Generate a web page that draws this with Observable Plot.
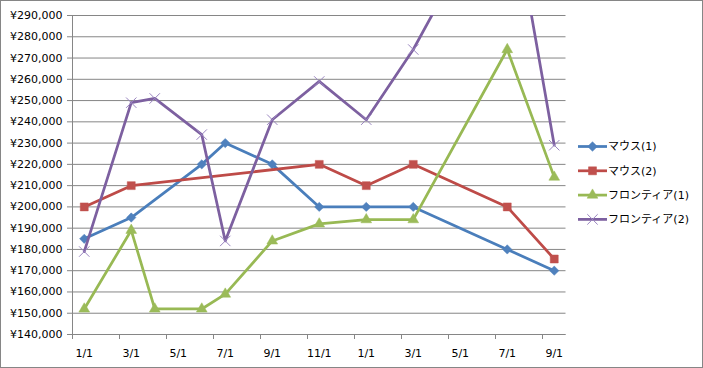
<!DOCTYPE html>
<html>
<head>
<meta charset="utf-8">
<script src="https://cdn.jsdelivr.net/npm/d3@7"></script>
<script src="https://cdn.jsdelivr.net/npm/@observablehq/plot@0.6"></script>
<style>
  html, body { margin: 0; padding: 0; background: #fff; }
  #chart { width: 703px; height: 368px; }
</style>
</head>
<body>
<div id="chart"></div>
<script>
// ---- data ----
const seriesNames = ["マウス(1)", "マウス(2)", "フロンティア(1)", "フロンティア(2)"];

const mouse1Months = ["2012-01","2012-03","2012-06","2012-07","2012-09","2012-11","2013-01","2013-03","2013-07","2013-09"];
const mouse1Values = [185000,195000,220000,230000,220000,200000,200000,200000,180000,170000];

const mouse2Months = ["2012-01","2012-03","2012-11","2013-01","2013-03","2013-07","2013-09"];
const mouse2Values = [200000,210000,220000,210000,220000,200000,175500];

const frontier1Months = ["2012-01","2012-03","2012-04","2012-06","2012-07","2012-09","2012-11","2013-01","2013-03","2013-07","2013-09"];
const frontier1Values = [152000,189000,152000,152000,159000,184000,192000,194000,194000,274000,214000];

const frontier2Months = ["2012-01","2012-03","2012-04","2012-06","2012-07","2012-09","2012-11","2013-01","2013-03","2013-07","2013-09"];
const frontier2Values = [179000,249000,251000,234000,184000,241000,259000,241000,274000,355000,229000];

const xTickLabels = ["1/1","3/1","5/1","7/1","9/1","11/1","1/1","3/1","5/1","7/1","9/1"];
const yTicks = d3.range(140000, 290001, 10000);

// ---- build table ----
const startYear = 2012;
const monthPos = s => { const [y, m] = s.split("-").map(Number); return (y - startYear) * 12 + (m - 1) + 0.5; };
const lineColors = ["#4A7EBB", "#BE4B48", "#98B954", "#7D60A0"];
const markFill = ["#4F81BD", "#C0504D", "#9BBB59", "#8064A2"];
const allMonths = [mouse1Months, mouse2Months, frontier1Months, frontier2Months];
const allValues = [mouse1Values, mouse2Values, frontier1Values, frontier2Values];
const series = seriesNames.map((name, k) =>
  allMonths[k].map((m, i) => ({series: name, x: monthPos(m), y: allValues[k][i]}))
);

const nMonths = 21;
const boundaryTicks = d3.range(0, 21, 2);
const centerTicks = xTickLabels.map((_, i) => i * 2 + 0.5);

const font = "'DejaVu Sans', 'Noto Sans CJK JP', sans-serif";

const lineMark = k => Plot.line(series[k], {x: "x", y: "y", stroke: lineColors[k], strokeWidth: 2.75, clip: true, strokeLinejoin: "round", strokeLinecap: "round"});

const chart = Plot.plot({
  width: 703,
  height: 368,
  marginLeft: 72,
  marginRight: 137.5,
  marginTop: 15,
  marginBottom: 34,
  x: {type: "linear", domain: [0, nMonths]},
  y: {domain: [140000, 290000]},
  style: {fontFamily: font, fontSize: "11px", color: "#000", background: "#fff", overflow: "visible"},
  marks: [
    Plot.gridY(yTicks, {stroke: "#868686", strokeOpacity: 1, strokeWidth: 1}),
    Plot.ruleX([0], {stroke: "#868686"}),
    Plot.ruleY([140000], {stroke: "#868686"}),
    Plot.axisY({ticks: yTicks, tickSize: 5, tickPadding: 5, stroke: "#868686", fill: "#000",
      tickFormat: v => "¥" + d3.format(",")(v), label: null}),
    Plot.axisX({ticks: boundaryTicks, tickSize: 5, stroke: "#868686", tickFormat: () => "", label: null}),
    Plot.axisX({ticks: centerTicks, tickSize: 0, tickPadding: 15, fill: "#000",
      tickFormat: d => xTickLabels[Math.round((d - 0.5) / 2)], label: null}),
    lineMark(0),
    Plot.dot(series[0], {x: "x", y: "y", symbol: "diamond2", r: 4.2, fill: markFill[0], stroke: markFill[0], strokeWidth: 0.5, clip: true}),
    lineMark(1),
    Plot.dot(series[1], {x: "x", y: "y", symbol: "square", r: 4.5, fill: markFill[1], stroke: markFill[1], strokeWidth: 0.5, clip: true}),
    lineMark(2),
    Plot.dot(series[2], {x: "x", y: "y", symbol: "triangle", r: 4, fill: markFill[2], stroke: markFill[2], strokeWidth: 0.5, clip: true}),
    lineMark(3),
    Plot.dot(series[3], {x: "x", y: "y", symbol: "times", r: 4.8, fill: "none", stroke: "#9A85C0", strokeWidth: 1, clip: true})
  ]
});

document.getElementById("chart").appendChild(chart);

// ---- legend & outer border ----
const svg = d3.select(chart);
const symbols = [d3.symbolDiamond2, d3.symbolSquare, d3.symbolTriangle, d3.symbolTimes];
const symSize = [60, 64, 50, 72];
const legend = svg.append("g").attr("font-family", font).attr("font-size", 11).attr("text-anchor", "start");
seriesNames.forEach((name, k) => {
  const cy = 146.5 + k * 24.3;
  const g = legend.append("g").attr("transform", `translate(0,${cy})`);
  g.append("line").attr("x1", 578).attr("x2", 607).attr("y1", 0).attr("y2", 0)
    .attr("stroke", lineColors[k]).attr("stroke-width", 2.75);
  const p = g.append("path").attr("transform", "translate(592.5,0)")
    .attr("d", d3.symbol(symbols[k], symSize[k])());
  if (k === 3) p.attr("fill", "none").attr("stroke", "#9A85C0").attr("stroke-width", 1);
  else p.attr("fill", markFill[k]).attr("stroke", markFill[k]).attr("stroke-width", 0.5);
  g.append("text").attr("x", 608).attr("y", 0).attr("dy", "0.35em").attr("text-anchor", "start")
    .attr("fill", "#000").text(name);
});
svg.append("rect").attr("x", 0.5).attr("y", 0.5).attr("width", 702).attr("height", 367)
  .attr("fill", "none").attr("stroke", "#868686");
</script>
</body>
</html>
